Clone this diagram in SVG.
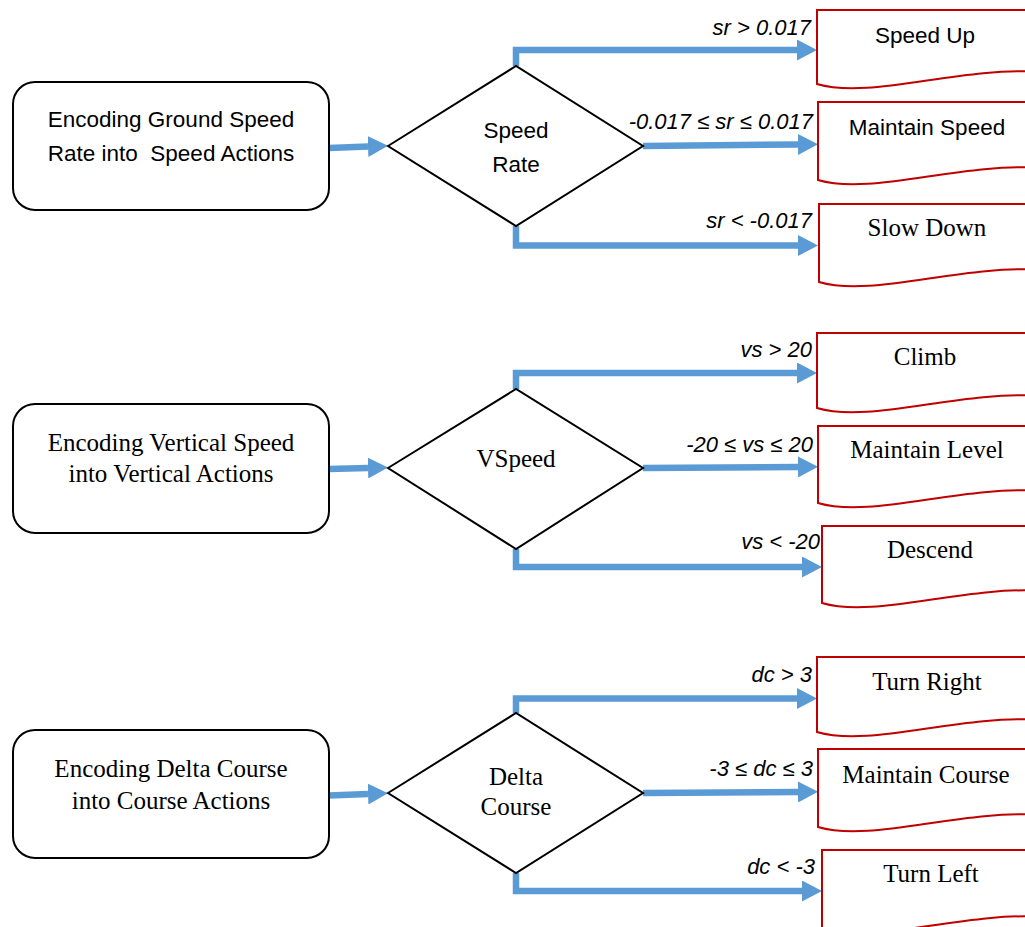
<svg xmlns="http://www.w3.org/2000/svg" width="1025" height="927" viewBox="0 0 1025 927">
<defs>
<marker id="ah" markerUnits="userSpaceOnUse" viewBox="0 0 20 21" refX="0" refY="10.5" markerWidth="20" markerHeight="21" orient="auto">
<path d="M0,0 L20,10.5 L0,21 Z" fill="#5B9BD5"/>
</marker>
<style>
.start{fill:#fff;stroke:#000;stroke-width:2}
.dec{fill:#fff;stroke:#000;stroke-width:2;stroke-linejoin:miter}
.doc{fill:#fff;stroke:#C00000;stroke-width:2}
.conn{fill:none;stroke:#5B9BD5;stroke-width:6.5;marker-end:url(#ah)}
.sans{font-family:"Liberation Sans",Arial,sans-serif;font-size:22.5px;fill:#000;text-anchor:middle;white-space:pre}
.serif{font-family:"Liberation Serif","Times New Roman",serif;font-size:25px;fill:#000;text-anchor:middle}
.lbl{font-family:"Liberation Sans",Arial,sans-serif;font-size:22px;font-style:italic;fill:#000;text-anchor:end}
</style>
</defs>
<rect width="1025" height="927" fill="#fff"/>

<g id="connectors">
<path class="conn" d="M329,148 L368,146.5"/>
<path class="conn" d="M516,66 V50 H797"/>
<path class="conn" d="M643,146 L798,144.5"/>
<path class="conn" d="M516,226 V245.5 H798"/>

<path class="conn" d="M329,469 L368,468"/>
<path class="conn" d="M516,389 V373 H797"/>
<path class="conn" d="M643,468 L798,467"/>
<path class="conn" d="M516,549 V567 H802"/>

<path class="conn" d="M329,795.5 L368,794"/>
<path class="conn" d="M516,713 V698.5 H797"/>
<path class="conn" d="M643,793 L798,792"/>
<path class="conn" d="M516,873 V891 H802"/>
</g>

<g id="start-speed"><rect class="start" x="13" y="82" width="316" height="128" rx="22"/>
<text class="sans" x="171" y="127">Encoding Ground Speed</text>
<text class="sans" x="171" y="161" xml:space="preserve">Rate into  Speed Actions</text></g>
<g id="start-vertical"><rect class="start" x="13" y="404" width="316" height="129" rx="22"/>
<text class="serif" x="171" y="451">Encoding Vertical Speed</text>
<text class="serif" x="171" y="482">into Vertical Actions</text></g>
<g id="start-course"><rect class="start" x="13" y="730" width="316" height="128" rx="22"/>
<text class="serif" x="171" y="777">Encoding Delta Course</text>
<text class="serif" x="171" y="809">into Course Actions</text></g>

<g id="dec-speed"><path class="dec" d="M388,146 L516,66 L643,146 L516,226 Z"/>
<text class="sans" x="516" y="138">Speed</text><text class="sans" x="516" y="172">Rate</text></g>
<g id="dec-vspeed"><path class="dec" d="M388,468 L516,389 L643,468 L516,549 Z"/>
<text class="serif" x="516" y="467">VSpeed</text></g>
<g id="dec-course"><path class="dec" d="M388,793 L516,713 L643,793 L516,873 Z"/>
<text class="serif" x="516" y="785">Delta</text><text class="serif" x="516" y="815">Course</text></g>

<g id="labels">
<text class="lbl" x="811" y="35">sr &gt; 0.017</text>
<text class="lbl" x="813" y="129">-0.017 ≤ sr ≤ 0.017</text>
<text class="lbl" x="812" y="228">sr &lt; -0.017</text>
<text class="lbl" x="812" y="357">vs &gt; 20</text>
<text class="lbl" x="813" y="452">-20 ≤ vs ≤ 20</text>
<text class="lbl" x="820" y="549">vs &lt; -20</text>
<text class="lbl" x="812" y="682">dc &gt; 3</text>
<text class="lbl" x="813" y="776">-3 ≤ dc ≤ 3</text>
<text class="lbl" x="815" y="874">dc &lt; -3</text>
</g>

<g id="speed-up"><path class="doc" d="M817,10 H1040 V72 C960,66 870,100 817,84 Z"/>
<text class="sans" x="925" y="43">Speed Up</text></g>
<g id="maintain-speed"><path class="doc" d="M818,102 H1041 V168 C961,162 871,196 818,180 Z"/>
<text class="sans" x="927" y="135">Maintain Speed</text></g>
<g id="slow-down"><path class="doc" d="M819,204 H1042 V270 C962,264 872,298 819,282 Z"/>
<text class="serif" x="927" y="236">Slow Down</text></g>

<g id="climb"><path class="doc" d="M817,333 H1040 V396 C960,390 870,424 817,408 Z"/>
<text class="serif" x="925" y="365">Climb</text></g>
<g id="maintain-level"><path class="doc" d="M818,426 H1041 V491 C961,485 871,519 818,503 Z"/>
<text class="serif" x="927" y="458">Maintain Level</text></g>
<g id="descend"><path class="doc" d="M822,526 H1045 V591 C965,585 875,619 822,603 Z"/>
<text class="serif" x="930" y="558">Descend</text></g>

<g id="turn-right"><path class="doc" d="M817,657 H1040 V720 C960,714 870,748 817,732 Z"/>
<text class="serif" x="927" y="690">Turn Right</text></g>
<g id="maintain-course"><path class="doc" d="M818,749 H1041 V815 C961,809 871,843 818,827 Z"/>
<text class="serif" x="926" y="783">Maintain Course</text></g>
<g id="turn-left"><path class="doc" d="M822,850 H1045 V917 C965,911 875,945 822,929 Z"/>
<text class="serif" x="931" y="882">Turn Left</text></g>
</svg>
